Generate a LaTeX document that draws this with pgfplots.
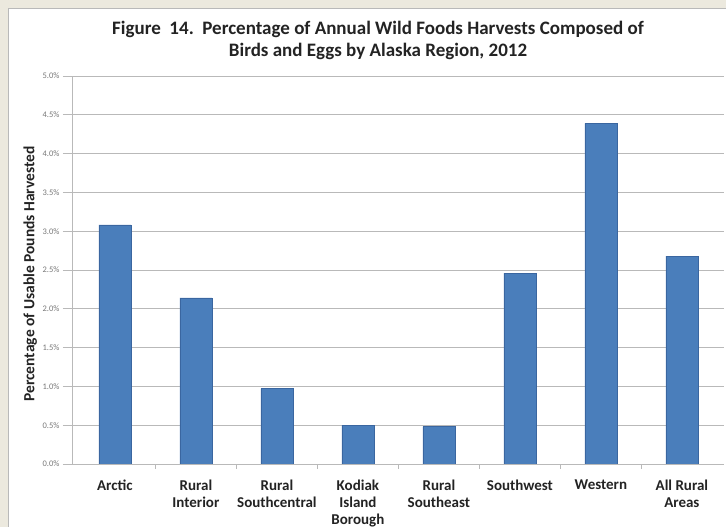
\documentclass[border=0pt]{standalone}
\usepackage{pgfplots}
\pgfplotsset{compat=1.18}
\usepackage{fontspec}
\setmainfont{Carlito}
\definecolor{beige}{RGB}{236,233,222}
\definecolor{barblue}{RGB}{74,126,187}
\definecolor{baredge}{RGB}{58,102,160}
\definecolor{gridgray}{RGB}{185,185,185}
\definecolor{ticktext}{RGB}{120,120,120}
\definecolor{labeltext}{RGB}{35,35,35}
\begin{document}
\begin{tikzpicture}[x=1pt,y=1pt]
\path[use as bounding box] (0,0) rectangle (726,527);
\fill[beige] (0,0) rectangle (726,527);
\fill[white] (8,0) rectangle (726,518);
\draw[gray!55, line width=1pt] (8,0) -- (8,518) -- (726,518);
\node[font=\bfseries\fontsize{19}{22.5}\selectfont, align=center, text=labeltext] at (378,486.5)
  {Figure\ \ 14.\ \ Percentage of Annual Wild Foods Harvests Composed of\\Birds and Eggs by Alaska Region, 2012};
\begin{axis}[
  at={(72pt,63pt)}, anchor=south west,
  scale only axis, width=652pt, height=388pt,
  xmin=-0.53, xmax=7.52, ymin=0, ymax=5,
  axis x line*=bottom, axis y line*=left,
  axis line style={draw=gridgray, line width=0.8pt},
  ymajorgrids, grid style={draw=gridgray, line width=0.8pt},
  ytick={0,0.5,...,5},
  /pgf/number format/assume math mode=true,
  yticklabel={\pgfmathprintnumber[fixed,fixed zerofill,precision=1]{\tick}\%},
  yticklabel style={font=\fontsize{8.5}{10}\selectfont, text=ticktext},
  ytick style={draw=gridgray, line width=0.8pt},
  tick align=outside, major tick length=9pt,
  xtick={0,...,7},
  xtick style={draw=none},
  minor xtick={0.5,1.5,...,6.5},
  minor tick length=5pt,
  minor x tick style={draw=gridgray, line width=0.8pt},
  xticklabels={Arctic,{Rural\\Interior},{Rural\\Southcentral},{Kodiak\\Island\\Borough},{Rural\\Southeast},Southwest,Western,{All Rural\\Areas}},
  xticklabel style={font=\bfseries\fontsize{15}{17}\selectfont, align=center, text=labeltext, yshift=-3pt},
  ylabel={Percentage of Usable Pounds Harvested},
  ylabel style={at={(axis description cs:-0.064,0.49)}, anchor=center, font=\bfseries\fontsize{15.5}{17}\selectfont, text=labeltext},
  ybar, bar width=32pt,
]
\addplot[fill=barblue, draw=baredge, line width=0.6pt] coordinates {
  (0,3.08) (1,2.14) (2,0.97) (3,0.50) (4,0.48) (5,2.46) (6,4.39) (7,2.68)
};
\end{axis}
\end{tikzpicture}
\end{document}
